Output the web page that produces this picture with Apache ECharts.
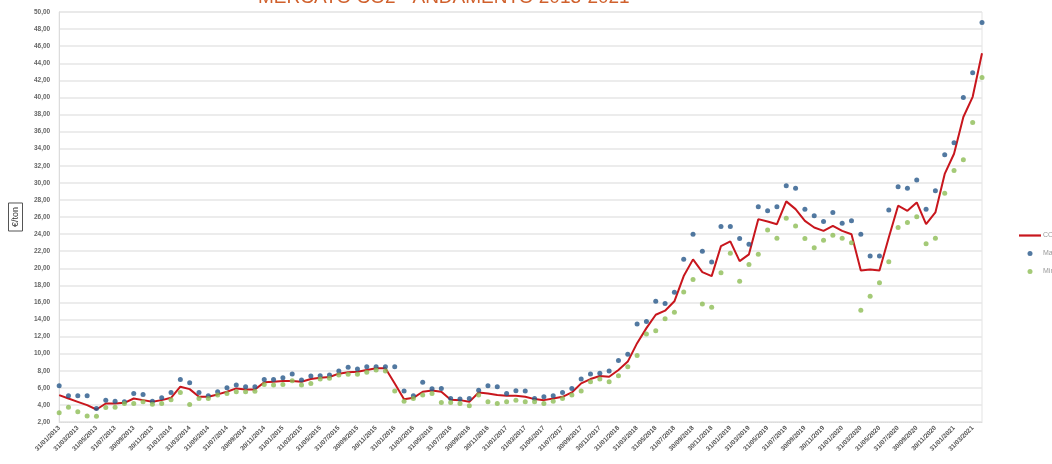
<!DOCTYPE html>
<html>
<head>
<meta charset="utf-8">
<script src="https://cdn.jsdelivr.net/npm/echarts@6/dist/echarts.min.js"></script>
<style>
html,body{margin:0;padding:0;background:#fff;}
#c{width:1052px;height:464px;}
</style>
</head>
<body>
<div id="c"></div>
<script>
const categories = [
"31/01/2013","28/02/2013","31/03/2013","30/04/2013","31/05/2013","30/06/2013","31/07/2013","31/08/2013","30/09/2013","31/10/2013","30/11/2013","31/12/2013",
"31/01/2014","28/02/2014","31/03/2014","30/04/2014","31/05/2014","30/06/2014","31/07/2014","31/08/2014","30/09/2014","31/10/2014","30/11/2014","31/12/2014",
"31/01/2015","28/02/2015","31/03/2015","30/04/2015","31/05/2015","30/06/2015","31/07/2015","31/08/2015","30/09/2015","31/10/2015","30/11/2015","31/12/2015",
"31/01/2016","29/02/2016","31/03/2016","30/04/2016","31/05/2016","30/06/2016","31/07/2016","31/08/2016","30/09/2016","31/10/2016","30/11/2016","31/12/2016",
"31/01/2017","28/02/2017","31/03/2017","30/04/2017","31/05/2017","30/06/2017","31/07/2017","31/08/2017","30/09/2017","31/10/2017","30/11/2017","31/12/2017",
"31/01/2018","28/02/2018","31/03/2018","30/04/2018","31/05/2018","30/06/2018","31/07/2018","31/08/2018","30/09/2018","31/10/2018","30/11/2018","31/12/2018",
"31/01/2019","28/02/2019","31/03/2019","30/04/2019","31/05/2019","30/06/2019","31/07/2019","31/08/2019","30/09/2019","31/10/2019","30/11/2019","31/12/2019",
"31/01/2020","29/02/2020","31/03/2020","30/04/2020","31/05/2020","30/06/2020","31/07/2020","31/08/2020","30/09/2020","31/10/2020","30/11/2020","31/12/2020",
"31/01/2021","28/02/2021","31/03/2021","30/04/2021"
];

const co2Avg = [
5.15,4.75,4.36,3.97,3.46,4.17,4.17,4.24,4.75,4.56,4.36,4.56,
4.83,6.13,5.85,4.95,4.95,5.23,5.54,5.93,5.81,5.81,6.64,6.72,
6.80,6.80,6.72,7.03,7.19,7.27,7.66,7.82,7.89,8.09,8.29,8.29,
6.50,4.67,4.83,5.54,5.70,5.54,4.60,4.56,4.36,5.46,5.34,5.15,
5.07,5.07,4.95,4.68,4.56,4.75,4.95,5.46,6.52,7.03,7.38,7.30,
8.09,9.07,11.23,12.99,14.56,15.03,16.13,19.08,21.04,19.55,19.08,22.60,
23.15,20.84,21.63,25.75,25.47,25.16,27.83,26.92,25.55,24.77,24.37,24.96,
24.37,23.98,19.74,19.86,19.74,23.59,27.32,26.73,27.71,25.16,26.53,31.04,
33.40,37.71,40.07,45.17
];

const co2Max = [
6.24,5.07,5.07,5.07,3.57,4.56,4.44,4.36,5.34,5.22,4.44,4.83,
5.46,6.99,6.60,5.46,5.07,5.54,6.01,6.33,6.13,6.13,6.99,6.99,
7.19,7.62,6.92,7.39,7.42,7.50,7.97,8.40,8.21,8.48,8.48,8.48,
8.48,5.62,5.07,6.64,5.90,5.93,4.75,4.68,4.75,5.73,6.25,6.13,
5.34,5.66,5.62,4.75,4.95,5.07,5.46,5.93,7.03,7.62,7.70,7.97,
9.19,9.93,13.47,13.78,16.13,15.86,17.19,21.04,23.98,22.00,20.72,24.88,
24.88,23.47,22.80,27.20,26.73,27.20,29.67,29.36,26.92,26.14,25.47,26.53,
25.27,25.55,23.98,21.43,21.43,26.81,29.55,29.36,30.34,26.92,29.08,33.28,
34.69,39.99,42.89,48.78
];

const co2Min = [
3.07,3.73,3.19,2.71,2.67,3.70,3.73,4.17,4.17,4.36,4.09,4.17,
4.60,5.46,4.05,4.75,4.75,5.15,5.34,5.54,5.54,5.60,6.40,6.33,
6.40,6.83,6.33,6.52,7.03,7.11,7.50,7.60,7.60,7.82,8.09,7.97,
5.62,4.44,4.75,5.15,5.34,4.28,4.28,4.17,3.89,5.15,4.36,4.17,
4.36,4.56,4.36,4.36,4.17,4.44,4.75,5.15,5.62,6.72,7.03,6.72,
7.42,8.48,9.78,12.29,12.68,14.09,14.84,17.23,18.68,15.82,15.43,19.47,
21.75,18.49,20.45,21.63,24.49,23.51,25.86,24.96,23.47,22.41,23.27,23.86,
23.51,23.00,15.07,16.72,18.29,20.76,24.77,25.35,26.02,22.88,23.51,28.77,
31.44,32.69,37.05,42.34
];

const yTicks = { min: 2, max: 50, step: 2 };
const titleText = "MERCATO CO2 - ANDAMENTO 2013-2021";
const seriesNames = ["CO2", "Max", "Min"];

const chart = echarts.init(document.getElementById('c'), null, {renderer: 'canvas'});
const fontFam = "'Liberation Sans', Arial, sans-serif";
chart.setOption({
  animation: false,
  backgroundColor: '#ffffff',
  textStyle: { fontFamily: fontFam },
  title: {
    text: titleText,
    left: 253,
    top: -17,
    textStyle: { fontSize: 19, fontWeight: 'normal', color: '#d0602c', fontFamily: fontFam }
  },
  legend: {
    orient: 'vertical',
    left: 1014,
    top: 227,
    itemWidth: 22,
    itemHeight: 5,
    itemGap: 11,
    textStyle: { fontSize: 7, color: '#999', padding: [0, 0, 0, -3] },
    data: [
      { name: seriesNames[0], icon: 'path://M0,0 L20,0 L20,2 L0,2 Z' },
      { name: seriesNames[1], icon: 'circle' },
      { name: seriesNames[2], icon: 'circle' }
    ]
  },
  grid: { left: 56, right: 70, top: 12, bottom: 42, show: true, borderColor: '#e3e3e3', borderWidth: 1 },
  xAxis: {
    type: 'category',
    data: categories,
    boundaryGap: false,
    axisLine: { show: true, lineStyle: { color: '#dcdcdc', type: 'dotted' } },
    axisTick: { show: false },
    axisLabel: { interval: 1, rotate: 45, fontSize: 6.5, color: '#555', margin: 5, fontWeight: 'bold' },
    splitLine: { show: false }
  },
  yAxis: {
    type: 'value',
    min: yTicks.min,
    max: yTicks.max,
    interval: yTicks.step,
    name: '€/ton',
    nameLocation: 'middle',
    nameRotate: 90,
    nameGap: 35,
    nameTextStyle: { fontSize: 9, color: '#333', borderColor: '#555', borderWidth: 1, padding: [3, 4, 2, 4] },
    axisLine: { show: true, lineStyle: { color: '#dcdcdc' } },
    axisTick: { show: false },
    axisLabel: { fontSize: 6.5, color: '#666', margin: 9, fontWeight: 'bold',
      formatter: v => v.toFixed(2).replace('.', ',') },
    splitLine: { show: true, lineStyle: { color: '#e6e6e6', width: 1.5 } }
  },
  series: [
    {
      name: seriesNames[0], type: 'line', data: co2Avg, symbol: 'none',
      lineStyle: { color: '#c8161d', width: 2 }, itemStyle: { color: '#c8161d' }, z: 3
    },
    {
      name: seriesNames[1], type: 'scatter', data: co2Max, symbol: 'circle', symbolSize: 5,
      itemStyle: { color: '#27578a' }, z: 4
    },
    {
      name: seriesNames[2], type: 'scatter', data: co2Min, symbol: 'circle', symbolSize: 5,
      itemStyle: { color: '#8dbd55' }, z: 4
    }
  ]
});
</script>
</body>
</html>
